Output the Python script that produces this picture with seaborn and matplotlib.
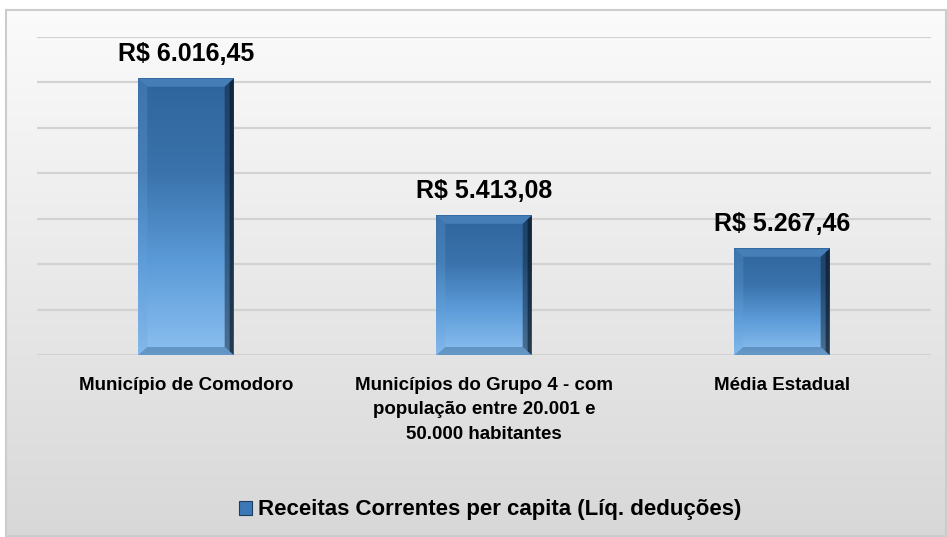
import numpy as np
import pandas as pd
import matplotlib
matplotlib.use("Agg")
import matplotlib.pyplot as plt
import seaborn as sns
from matplotlib.colors import LinearSegmentedColormap
from matplotlib.patches import Polygon, Rectangle, Patch

categories = ["Município de Comodoro",
              "Municípios do Grupo 4 - com\npopulação entre 20.001 e\n50.000 habitantes",
              "Média Estadual"]
values = [6016.45, 5413.08, 5267.46]
value_labels = ["R$ 6.016,45", "R$ 5.413,08", "R$ 5.267,46"]
series_name = "Receitas Correntes per capita (Líq. deduções)"
y_min, y_max, y_step = 4800, 6200, 200

sns.set_theme(style="white")
plt.rcParams['font.family'] = ['Liberation Sans', 'DejaVu Sans']

W, H = 947, 537
fig = plt.figure(figsize=(W / 100, H / 100), dpi=100)
fig.patch.set_facecolor('white')

# background panel with vertical gradient
bg = fig.add_axes([0, 0, 1, 1], zorder=0)
bg.set_xlim(0, W); bg.set_ylim(H, 0); bg.axis('off')
grad = np.linspace(0, 1, 256).reshape(-1, 1)
bgcmap = LinearSegmentedColormap.from_list('bg', ['#fbfbfb', '#d8d8d8'])
bg.imshow(grad, cmap=bgcmap, extent=[6, 946, 536, 10], aspect='auto', origin='upper')
bg.add_patch(Rectangle((6, 10), 940, 526, fill=False, edgecolor='#cccccc', lw=1.5))
bg.set_xlim(0, W); bg.set_ylim(H, 0)

ax = fig.add_axes([37 / W, 1 - 355 / H, 894 / W, 318 / H], zorder=1)
ax.patch.set_alpha(0)

df = pd.DataFrame({'cat': categories, 'val': values, 'serie': series_name})
sns.barplot(data=df, x='cat', y='val', hue='serie', width=0.32, ax=ax,
            palette=['#3c78b8'], legend=False)

ax.set_ylim(y_min, y_max)
ax.set_xlim(-0.5, len(categories) - 0.5)
ax.set_yticks(np.arange(y_min, y_max + 1, y_step))
ax.yaxis.grid(True, color='#d2d2d2', lw=1.6)
ax.set_axisbelow(True)
ax.tick_params(axis='y', left=False, labelleft=False)
ax.tick_params(axis='x', bottom=False, pad=10)
for s in ax.spines.values():
    s.set_visible(False)
ax.set_xlabel(''); ax.set_ylabel('')
ax.set_xticks(range(len(categories)))
ax.set_xticklabels(categories, fontsize=13.5, fontweight='bold', color='black',
                   linespacing=1.55, va='top')

# pixel scale
ax_w_px = 894; ax_h_px = 318
px_x = (len(categories)) / ax_w_px
px_y = (y_max - y_min) / ax_h_px

barcmap = LinearSegmentedColormap.from_list('bar', ['#8cc0f0', '#5b9bd8', '#3a72ab', '#2f659c'])
bars = list(ax.patches)
for p, lab in zip(bars, value_labels):
    x0 = p.get_x(); w = p.get_width()
    top = p.get_y() + p.get_height()
    bot = y_min
    p.set_facecolor('none'); p.set_edgecolor('none')
    ax.imshow(grad, cmap=barcmap, extent=[x0, x0 + w, bot, top], aspect='auto',
              origin='lower', zorder=2)
    bx = 9 * px_x; by = 8 * px_y
    # top bevel
    ax.add_patch(Polygon([(x0, top), (x0 + w, top), (x0 + w - bx, top - by), (x0 + bx, top - by)],
                         closed=True, facecolor='#5590c8', alpha=0.6, edgecolor='none', zorder=3))
    # right bevel (dark)
    ax.add_patch(Polygon([(x0 + w, top), (x0 + w, bot), (x0 + w - bx, bot + by), (x0 + w - bx, top - by)],
                         closed=True, facecolor='#0e2136', alpha=0.5, edgecolor='none', zorder=3))
    ax.add_patch(Polygon([(x0 + w, top), (x0 + w, bot), (x0 + w - bx * 0.45, bot + by * 0.45), (x0 + w - bx * 0.45, top - by * 0.45)],
                         closed=True, facecolor='#05101c', alpha=0.55, edgecolor='none', zorder=3))
    # left bevel (light)
    ax.add_patch(Polygon([(x0, top), (x0, bot), (x0 + bx, bot + by), (x0 + bx, top - by)],
                         closed=True, facecolor='#6aa4dc', alpha=0.25, edgecolor='none', zorder=3))
    # bottom bevel
    ax.add_patch(Polygon([(x0, bot), (x0 + w, bot), (x0 + w - bx, bot + by), (x0 + bx, bot + by)],
                         closed=True, facecolor='#2c5a88', alpha=0.4, edgecolor='none', zorder=3))
    ax.annotate(lab, xy=(x0 + w / 2, top), xytext=(0, 13), textcoords='offset points',
                ha='center', va='baseline', fontsize=18, fontweight='bold', color='black',
                zorder=4, annotation_clip=False)

ax.set_ylim(y_min, y_max)
ax.set_xlim(-0.5, len(categories) - 0.5)

handle = Patch(facecolor='#3c78b8', edgecolor='#1d3d5e', lw=0.8)
leg = fig.legend(handles=[handle], labels=[series_name], loc='center',
                 bbox_to_anchor=(490 / W, 1 - 510 / H), frameon=False,
                 prop={'size': 16, 'weight': 'bold'}, handlelength=0.6, handleheight=0.6,
                 handletextpad=0.25, labelcolor='black')

fig.savefig('out.png', dpi=100, facecolor='white')
